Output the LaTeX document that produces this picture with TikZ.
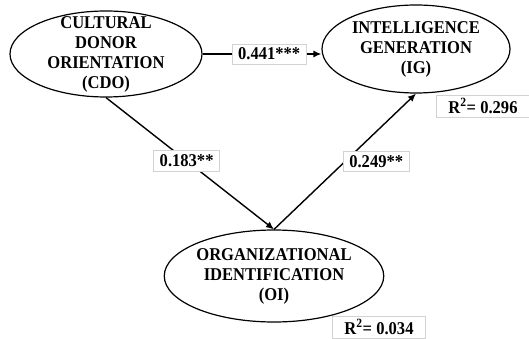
\documentclass[tikz,border=0pt]{standalone}
\usepackage{fontspec}
\setmainfont{Liberation Serif}
\newfontfamily\diagfont[FakeStretch=0.92]{Liberation Serif}
\usetikzlibrary{arrows.meta, shapes.geometric}
\tikzset{
  construct/.style={
    ellipse,
    draw,
    line width=1.2pt,
    align=center,
    inner xsep=0pt,
    inner ysep=-18pt,
    font=\diagfont\fontsize{18}{20}\selectfont\bfseries
  },
  coef/.style={
    rectangle,
    draw=gray!35,
    fill=white,
    line width=0.6pt,
    inner xsep=6pt,
    inner ysep=4pt,
    font=\diagfont\fontsize{18}{20}\selectfont\bfseries
  },
  rsq/.style={
    rectangle,
    draw=gray!35,
    fill=white,
    line width=0.6pt,
    minimum width=93pt,
    minimum height=22pt,
    font=\diagfont\fontsize{18}{20}\selectfont\bfseries
  },
  arrow/.style={-{Latex[length=8pt, width=7pt]}, line width=1.4pt}
}

\begin{document}
\begin{tikzpicture}[x=1pt, y=-1pt]
\useasboundingbox (0,0) rectangle (529,339);
\node[construct, minimum width=192pt, minimum height=86pt] (cdo) at (106,54) {CULTURAL\\DONOR\\ORIENTATION\\(CDO)};
\node[construct, minimum width=188pt, minimum height=88pt] (ig) at (416,49) {INTELLIGENCE\\GENERATION\\(IG)};
\node[construct, minimum width=186pt, minimum height=92pt] (oi) at (274,276) {ORGANIZATIONAL\\IDENTIFICATION\\(OI)};
\node[rsq] (igr) at (483,106) {R\textsuperscript{2}= 0.296};
\node[rsq] (oir) at (379,327) {R\textsuperscript{2}= 0.034};

\draw[arrow] (cdo.east) -- node[coef, pos=0.56] {0.441***} (cdo.east -| ig.west);
\draw[arrow] (cdo.south) -- node[coef, pos=0.48] {0.183**} (oi.north);
\draw[arrow] (oi.north) -- node[coef, anchor=west, pos=0.5, xshift=-2pt] {0.249**} (ig.south);
\end{tikzpicture}
\end{document}
